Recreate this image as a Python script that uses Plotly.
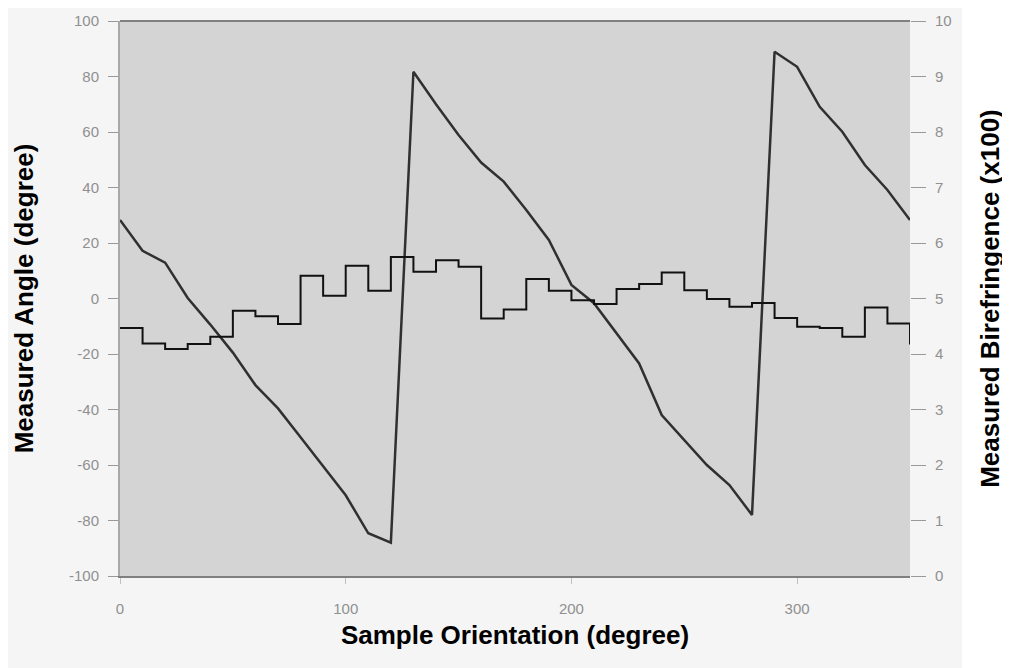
import plotly.graph_objects as go

orientation = [0, 10, 20, 30, 40, 50, 60, 70, 80, 90, 100, 110, 120, 130, 140, 150, 160, 170,
               180, 190, 200, 210, 220, 230, 240, 250, 260, 270, 280, 290, 300, 310, 320, 330, 340, 350]
angle = [28.3, 17.2, 12.9, 0.2, -9.4, -19.5, -31.2, -39.6, -50.0, -60.5, -70.9, -84.6, -88.0,
         81.7, 70.0, 58.9, 49.0, 42.1, 31.9, 21.1, 4.9, -1.7, -12.7, -23.4, -42.0, -51.0, -60.0,
         -67.2, -78.0, 88.9, 83.5, 69.1, 60.1, 48.1, 39.1, 28.3]
biref = [4.47, 4.19, 4.09, 4.18, 4.31, 4.78, 4.68, 4.54, 5.41, 5.05, 5.59, 5.14, 5.75, 5.48,
         5.69, 5.57, 4.64, 4.80, 5.35, 5.14, 4.97, 4.90, 5.17, 5.26, 5.47, 5.15, 4.99, 4.85,
         4.92, 4.65, 4.49, 4.47, 4.31, 4.84, 4.55, 4.17]

x_ticks = [0, 100, 200, 300]
y_ticks = [-100, -80, -60, -40, -20, 0, 20, 40, 60, 80, 100]
y_labels = [str(v) for v in y_ticks]
y2_ticks = [0, 1, 2, 3, 4, 5, 6, 7, 8, 9, 10]

tick_font = dict(family="Liberation Sans, Arial", size=15, color="#909090")
title_font = dict(family="Liberation Sans, Arial", size=26, color="#000000")

fig = go.Figure()
fig.add_trace(go.Scatter(x=orientation, y=angle, mode="lines",
                         line=dict(color="#303030", width=2.5), yaxis="y", showlegend=False))
fig.add_trace(go.Scatter(x=orientation, y=biref, mode="lines", line_shape="hv",
                         line=dict(color="#111111", width=2), yaxis="y2", showlegend=False))

fig.update_layout(
    width=1010, height=668, autosize=False,
    margin=dict(l=112, r=108, t=13, b=100),
    paper_bgcolor="#f5f5f5",
    plot_bgcolor="#d4d4d4",
    xaxis=dict(range=[0, 350], tickvals=x_ticks, ticks="outside", ticklen=6, tickcolor="#c0c0c0",
               showgrid=False, zeroline=False, showline=True, linecolor="#808080", linewidth=2,
               tickfont=tick_font, ticklabelstandoff=12, automargin=False,
               title=dict(text="<b>Sample Orientation (degree)</b>", font=title_font, standoff=10)),
    yaxis=dict(range=[-100, 100], tickvals=y_ticks, ticktext=y_labels, ticks="outside", ticklen=10,
               tickcolor="#999999", showgrid=False, zeroline=False, showline=True,
               linecolor="#a8a8a8", linewidth=2,
               tickfont=tick_font, ticklabelstandoff=6, automargin=False,
               title=dict(text="<b>Measured Angle (degree)</b>", font=title_font, standoff=28)),
    yaxis2=dict(range=[0, 10], tickvals=y2_ticks, overlaying="y", side="right",
                ticks="outside", ticklen=15, tickcolor="#999999", showgrid=False, zeroline=False,
                showline=False, tickfont=tick_font, ticklabelstandoff=6, automargin=False,
                title=dict(text="<b>Measured Birefringence (x100)</b>", font=title_font, standoff=30)),
    shapes=[
        dict(type="line", xref="paper", yref="paper", x0=0, x1=1.0, y0=1, y1=1,
             line=dict(color="#808080", width=2)),
        dict(type="rect", xref="paper", yref="paper", x0=1.066, x1=1.2, y0=-0.2, y1=1.1,
             line=dict(width=0), fillcolor="#ffffff", layer="below"),
    ],
)

fig.write_html("out.html")
